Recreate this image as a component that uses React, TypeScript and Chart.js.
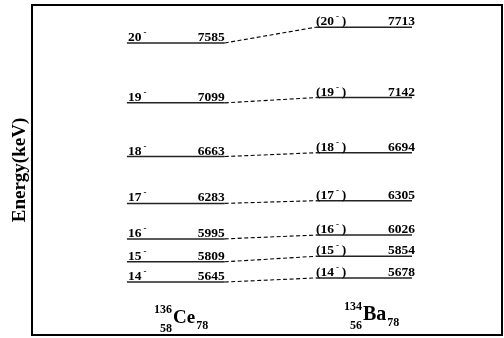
import React, { useEffect, useRef } from "react";
import { Chart, registerables } from "chart.js";

Chart.register(...registerables);

// ---- data ----
const spins = [14, 15, 16, 17, 18, 19, 20];
const ceEnergies = [5645, 5809, 5995, 6283, 6663, 7099, 7585];
const baEnergies = [5678, 5854, 6026, 6305, 6694, 7142, 7713];
const axisTitle = "Energy(keV)";
const yRange = [5215, 7893];

// ---- layout (column extents in x-scale units 0..100) ----
const CE_X = [20.2, 41.0];
const BA_X = [60.4, 80.85];
const FONT = '"Liberation Serif", "Times New Roman", serif';
const LEVEL_COLOR = "#222";

function drawSpin(ctx: CanvasRenderingContext2D, s: number, x: number, yb: number, tentative: boolean) {
  ctx.textAlign = "left";
  ctx.textBaseline = "alphabetic";
  ctx.font = `bold 13.5px ${FONT}`;
  let cx = x;
  if (tentative) {
    ctx.fillText("(", cx, yb);
    cx += ctx.measureText("(").width;
  }
  const t = String(s);
  ctx.fillText(t, cx, yb);
  cx += ctx.measureText(t).width;
  ctx.font = `bold 9px ${FONT}`;
  ctx.fillText("-", cx + 2, yb - 6);
  cx += ctx.measureText("-").width + 5;
  if (tentative) {
    ctx.font = `bold 13.5px ${FONT}`;
    ctx.fillText(")", cx, yb);
  }
}

const schemePlugin = {
  id: "scheme",
  afterDraw(chart: any) {
    const { ctx, chartArea, scales } = chart;
    const { left, top, right, bottom } = chartArea;
    const x = scales.x;
    const y = scales.y;
    ctx.save();
    // frame
    ctx.strokeStyle = "#000";
    ctx.lineWidth = 2;
    ctx.strokeRect(left, top, right - left, bottom - top);

    ctx.fillStyle = "#000";
    const cx0 = x.getPixelForValue(CE_X[0]);
    const cx1 = x.getPixelForValue(CE_X[1]);
    const bx0 = x.getPixelForValue(BA_X[0]);
    const bx1 = x.getPixelForValue(BA_X[1]);
    spins.forEach((s, i) => {
      const yc = y.getPixelForValue(ceEnergies[i]) - 2;
      drawSpin(ctx, s, cx0 + 1, yc, false);
      ctx.font = `bold 13.5px ${FONT}`;
      ctx.textAlign = "right";
      ctx.fillText(String(ceEnergies[i]), cx1, yc);

      const yb = y.getPixelForValue(baEnergies[i]) - 2;
      drawSpin(ctx, s, bx0, yb, true);
      ctx.font = `bold 13.5px ${FONT}`;
      ctx.textAlign = "right";
      ctx.fillText(String(baEnergies[i]), bx1 + 3, yb);
    });

    // nucleus labels
    const nucleus = (xa: number, base: number, A: string, Z: string, sym: string, N: string, size: number) => {
      ctx.textBaseline = "alphabetic";
      ctx.font = `bold ${size}px ${FONT}`;
      ctx.textAlign = "left";
      ctx.fillText(sym, xa, base);
      const w = ctx.measureText(sym).width;
      ctx.font = `bold 12px ${FONT}`;
      ctx.textAlign = "right";
      ctx.fillText(A, xa - 1, base - 10);
      ctx.fillText(Z, xa - 1, base + 9);
      ctx.textAlign = "left";
      ctx.fillText(N, xa + w + 1, base + 6);
    };
    nucleus(x.getPixelForValue(30.0), bottom - 12, "136", "58", "Ce", "78", 19);
    nucleus(x.getPixelForValue(70.4), bottom - 15, "134", "56", "Ba", "78", 20);

    // axis title
    ctx.save();
    ctx.translate(20, (top + bottom) / 2);
    ctx.rotate(-Math.PI / 2);
    ctx.textAlign = "center";
    ctx.textBaseline = "middle";
    ctx.font = `bold 19px ${FONT}`;
    ctx.fillText(axisTitle, 0, 0);
    ctx.restore();

    ctx.restore();
  },
};

export default function App() {
  const ref = useRef<HTMLCanvasElement | null>(null);
  useEffect(() => {
    if (!ref.current) return;
    const datasets: any[] = [];
    spins.forEach((s, i) => {
      datasets.push({
        label: `Ce ${s}`,
        data: [
          { x: CE_X[0], y: ceEnergies[i] },
          { x: CE_X[1], y: ceEnergies[i] },
        ],
        borderColor: LEVEL_COLOR,
        borderWidth: 1.5,
        pointRadius: 0,
      });
      datasets.push({
        label: `Ba ${s}`,
        data: [
          { x: BA_X[0], y: baEnergies[i] },
          { x: BA_X[1], y: baEnergies[i] },
        ],
        borderColor: LEVEL_COLOR,
        borderWidth: 1.5,
        pointRadius: 0,
      });
      datasets.push({
        label: `link ${s}`,
        data: [
          { x: CE_X[1], y: ceEnergies[i] },
          { x: BA_X[0], y: baEnergies[i] },
        ],
        borderColor: "#000",
        borderWidth: 1.1,
        borderDash: [4, 2.5],
        pointRadius: 0,
      });
    });
    const chart = new Chart(ref.current, {
      type: "line",
      data: { datasets },
      options: {
        animation: false,
        responsive: true,
        maintainAspectRatio: false,
        layout: { padding: { left: 32, top: 5, right: 2, bottom: 3 } },
        plugins: { legend: { display: false }, tooltip: { enabled: false } },
        scales: {
          x: { type: "linear", display: false, min: 0, max: 100 },
          y: { type: "linear", display: false, min: yRange[0], max: yRange[1] },
        },
      },
      plugins: [schemePlugin],
    } as any);
    return () => chart.destroy();
  }, []);
  return (
    <div style={{ position: "fixed", left: 0, top: 0, width: 504, height: 338, background: "#fff" }}>
      <canvas ref={ref} />
    </div>
  );
}
